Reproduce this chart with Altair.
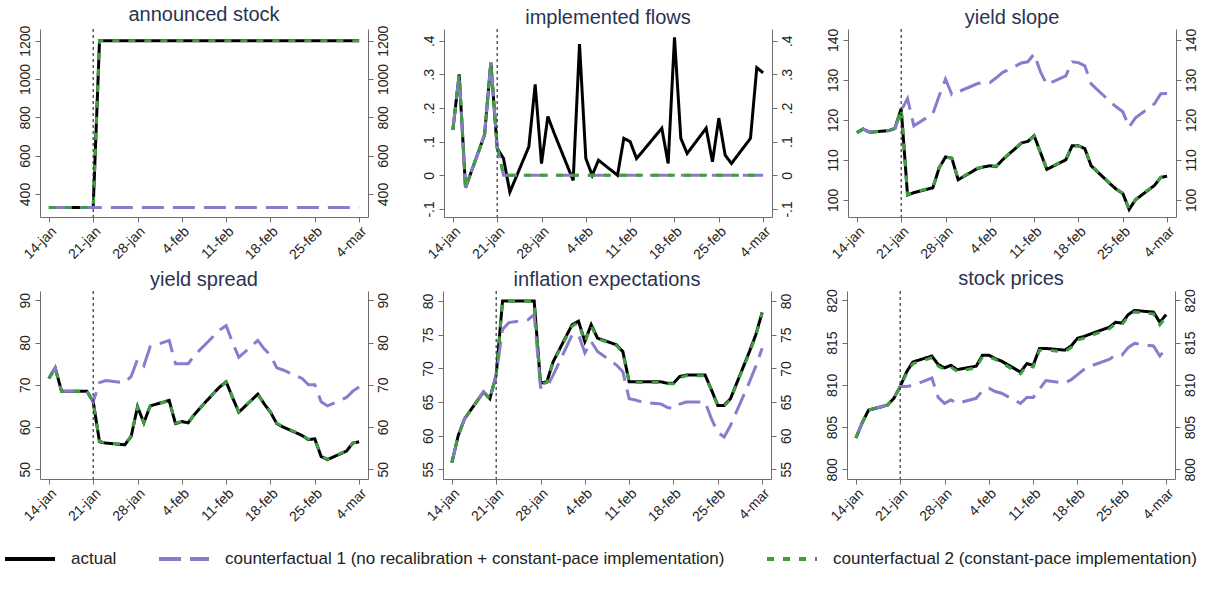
import altair as alt
import pandas as pd

# ---------------- data ----------------
dates = ["2015-01-14", "2015-01-15", "2015-01-16", "2015-01-19", "2015-01-20", "2015-01-21",
         "2015-01-22", "2015-01-23", "2015-01-26", "2015-01-27", "2015-01-28", "2015-01-29",
         "2015-01-30", "2015-02-02", "2015-02-03", "2015-02-04", "2015-02-05", "2015-02-06",
         "2015-02-09", "2015-02-10", "2015-02-11", "2015-02-12", "2015-02-13", "2015-02-16",
         "2015-02-17", "2015-02-18", "2015-02-19", "2015-02-20", "2015-02-23", "2015-02-24",
         "2015-02-25", "2015-02-26", "2015-02-27", "2015-03-02", "2015-03-03", "2015-03-04"]

tick_dates = ["2015-01-14", "2015-01-21", "2015-01-28", "2015-02-04",
              "2015-02-11", "2015-02-18", "2015-02-25", "2015-03-04"]
tick_labels = ["14-jan", "21-jan", "28-jan", "4-feb", "11-feb", "18-feb", "25-feb", "4-mar"]
announcement = ["2015-01-21"]

series_names = ["actual",
                "counterfactual 1 (no recalibration + constant-pace implementation)",
                "counterfactual 2 (constant-pace implementation)"]

stock_actual = [330, 330, 330, 330, 330, 330, 1200, 1200, 1200, 1200, 1200, 1200,
                1200, 1200, 1200, 1200, 1200, 1200, 1200, 1200, 1200, 1200, 1200, 1200,
                1200, 1200, 1200, 1200, 1200, 1200, 1200, 1200, 1200, 1200, 1200, 1200]
stock_cf1 = [330, 330, 330, 330, 330, 330, 330, 330, 330, 330, 330, 330,
             330, 330, 330, 330, 330, 330, 330, 330, 330, 330, 330, 330,
             330, 330, 330, 330, 330, 330, 330, 330, 330, 330, 330, 330]
stock_cf2 = [330, 330, 330, 330, 330, 330, 1200, 1200, 1200, 1200, 1200, 1200,
             1200, 1200, 1200, 1200, 1200, 1200, 1200, 1200, 1200, 1200, 1200, 1200,
             1200, 1200, 1200, 1200, 1200, 1200, 1200, 1200, 1200, 1200, 1200, 1200]

flows_actual = [0.135, 0.30, -0.037, 0.12, 0.335, 0.08, 0.05, -0.05, 0.085, 0.27, 0.035, 0.175,
                0.125, -0.015, 0.39, 0.05, 0.0, 0.045, 0.0, 0.11, 0.10, 0.05, 0.072, 0.14,
                0.035, 0.41, 0.11, 0.065, 0.14, 0.04, 0.17, 0.06, 0.035, 0.11, 0.32, 0.305]
flows_cf1 = [0.135, 0.30, -0.037, 0.12, 0.335, 0.085, 0.0, 0.0, 0.0, 0.0, 0.0, 0.0,
             0.0, 0.0, 0.0, 0.0, 0.0, 0.0, 0.0, 0.0, 0.0, 0.0, 0.0, 0.0,
             0.0, 0.0, 0.0, 0.0, 0.0, 0.0, 0.0, 0.0, 0.0, 0.0, 0.0, 0.0]
flows_cf2 = [0.135, 0.30, -0.037, 0.12, 0.335, 0.085, 0.0, 0.0, 0.0, 0.0, 0.0, 0.0,
             0.0, 0.0, 0.0, 0.0, 0.0, 0.0, 0.0, 0.0, 0.0, 0.0, 0.0, 0.0,
             0.0, 0.0, 0.0, 0.0, 0.0, 0.0, 0.0, 0.0, 0.0, 0.0, 0.0, 0.0]

slope_actual = [116.8, 117.7, 116.9, 117.3, 117.8, 122.8, 101.2, 101.8, 103.0, 108.0, 110.7, 110.4,
                105.0, 107.8, 108.2, 108.5, 108.3, 110.0, 114.2, 114.6, 116.0, 111.8, 107.6, 110.0,
                113.5, 113.5, 112.8, 108.5, 104.0, 102.6, 101.6, 97.6, 100.0, 103.6, 105.6, 105.9]
slope_cf1 = [116.8, 117.7, 116.9, 117.3, 117.8, 122.3, 125.3, 118.5, 121.5, 126.0, 130.2, 126.3,
             127.0, 129.0, 129.4, 129.3, 130.5, 131.8, 134.2, 134.5, 136.5, 132.0, 128.8, 131.0,
             134.5, 134.3, 133.5, 129.0, 124.5, 123.2, 122.0, 118.2, 120.5, 124.0, 126.5, 126.6]
slope_cf2 = [116.8, 117.7, 116.9, 117.3, 117.8, 122.8, 101.3, 101.9, 103.1, 108.1, 110.6, 110.4,
             105.1, 107.9, 108.2, 108.5, 108.4, 110.1, 114.3, 114.6, 115.9, 111.8, 107.7, 110.1,
             113.6, 113.4, 112.9, 108.6, 104.1, 102.6, 101.7, 97.7, 100.1, 103.7, 105.6, 105.9]

spread_actual = [71.5, 74.0, 68.5, 68.5, 68.5, 66.0, 56.5, 56.2, 55.8, 57.8, 64.8, 61.0,
                 65.0, 66.3, 60.8, 61.3, 61.0, 63.0, 68.0, 69.5, 70.7, 67.0, 63.5, 67.8,
                 65.5, 63.5, 60.8, 60.0, 58.0, 57.0, 57.2, 53.0, 52.3, 54.3, 56.2, 56.5]
spread_cf1 = [71.5, 74.0, 68.5, 68.5, 68.5, 66.0, 70.5, 71.0, 70.5, 72.0, 76.0, 74.5,
              79.0, 80.5, 75.0, 75.0, 75.0, 77.0, 81.5, 83.0, 84.0, 80.0, 76.5, 80.5,
              78.5, 77.0, 74.0, 73.5, 71.5, 70.0, 70.0, 66.0, 65.0, 67.0, 68.5, 69.5]
spread_cf2 = [71.5, 74.0, 68.5, 68.5, 68.5, 66.0, 56.6, 56.2, 55.9, 57.9, 64.7, 61.1,
              65.0, 66.2, 60.9, 61.3, 61.1, 63.1, 68.0, 69.4, 70.6, 67.1, 63.6, 67.7,
              65.6, 63.6, 60.9, 60.1, 58.1, 57.1, 57.2, 53.1, 52.4, 54.4, 56.2, 56.5]

infl_actual = [56.0, 60.0, 62.5, 66.5, 65.5, 69.0, 80.0, 80.0, 80.0, 80.0, 67.8, 68.0,
               71.0, 76.5, 77.0, 74.0, 76.5, 74.5, 73.5, 72.5, 68.0, 68.0, 68.0, 68.0,
               67.8, 67.8, 68.8, 69.0, 69.0, 66.8, 64.5, 64.5, 65.5, 72.5, 75.0, 78.3]
infl_cf1 = [56.0, 60.0, 62.5, 66.5, 65.5, 69.0, 75.8, 76.8, 77.2, 78.0, 67.2, 67.2,
            69.0, 75.0, 75.0, 72.3, 74.0, 72.5, 70.5, 69.5, 65.5, 65.3, 65.0, 64.7,
            64.2, 64.0, 64.7, 65.0, 65.0, 62.5, 60.5, 59.8, 61.5, 68.0, 70.3, 73.0]
infl_cf2 = [56.0, 60.0, 62.5, 66.5, 65.5, 69.0, 80.0, 80.0, 80.0, 79.9, 67.6, 67.9,
            70.9, 76.3, 76.8, 73.9, 76.3, 74.4, 73.4, 72.3, 67.9, 67.9, 67.9, 67.9,
            67.7, 67.7, 68.6, 68.9, 68.9, 66.7, 64.4, 64.4, 65.4, 72.3, 74.8, 78.2]

price_actual = [803.7, 805.5, 807.0, 807.6, 808.4, 809.8, 811.5, 812.7, 813.4, 812.4, 812.0, 812.3,
                811.8, 812.2, 813.5, 813.5, 813.1, 812.8, 811.5, 812.5, 812.3, 814.3, 814.3, 814.1,
                814.6, 815.5, 815.7, 816.0, 816.8, 817.4, 817.3, 818.3, 818.8, 818.6, 817.4, 818.3]
price_cf1 = [803.7, 805.5, 807.0, 807.6, 808.4, 809.8, 809.8, 809.9, 810.8, 808.5, 807.8, 808.2,
             807.8, 808.4, 809.3, 809.6, 809.2, 809.0, 807.8, 808.5, 808.5, 809.5, 810.5, 810.2,
             810.6, 811.2, 811.8, 812.2, 813.0, 813.5, 813.5, 814.4, 814.9, 814.6, 813.4, 814.3]
price_cf2 = [803.7, 805.5, 807.0, 807.6, 808.4, 809.8, 811.3, 812.5, 813.2, 812.2, 811.8, 812.1,
             811.6, 812.0, 813.3, 813.3, 813.0, 812.6, 811.3, 812.3, 812.1, 814.1, 814.1, 813.9,
             814.4, 815.3, 815.5, 815.8, 816.6, 817.2, 817.1, 818.1, 818.6, 818.4, 817.1, 818.0]

panel_titles = ["announced stock", "implemented flows", "yield slope",
                "yield spread", "inflation expectations", "stock prices"]
panel_series = [(stock_actual, stock_cf1, stock_cf2), (flows_actual, flows_cf1, flows_cf2),
                (slope_actual, slope_cf1, slope_cf2), (spread_actual, spread_cf1, spread_cf2),
                (infl_actual, infl_cf1, infl_cf2), (price_actual, price_cf1, price_cf2)]
panel_domains = [[280, 1261], [-0.124, 0.435], [95.7, 142.7],
                 [47.7, 92.2], [53.56, 81.5], [798.85, 821.1]]
panel_ticks = [[400, 600, 800, 1000, 1200], [-0.1, 0, 0.1, 0.2, 0.3, 0.4], [100, 110, 120, 130, 140],
               [50, 60, 70, 80, 90], [55, 60, 65, 70, 75, 80], [800, 805, 810, 815, 820]]
panel_formats = ["int", "dec", "int", "int", "int", "int"]

# ---------------- style ----------------
colors = ["#000000", "#8a7ccc", "#3f9e3f"]
dashes = [[1, 0], [22, 9], [7, 9]]
FONT = "Liberation Sans"
PW, PH = 328, 188
AXIS_COL = "#6e6e6e"

t0 = pd.Timestamp(tick_dates[0]).value // 10**6
week_ms = 7 * 86400000
label_array = "[" + ",".join("'%s'" % s for s in tick_labels) + "]"
x_label_expr = f"{label_array}[round((datum.value - {t0}) / {week_ms})]"


def dt(s, hours=0):
    ts = pd.Timestamp(s) + pd.Timedelta(hours=hours)
    return alt.DateTime(year=ts.year, month=ts.month, date=ts.day, hours=ts.hour,
                        minutes=ts.minute, utc=True)


x_scale = alt.Scale(type="utc", domain=[dt(dates[0], -33.6), dt(dates[-1], 33.6)], nice=False)
x_axis = alt.Axis(values=[dt(d) for d in tick_dates], labelExpr=x_label_expr, title=None,
                  labelAngle=315, labelAlign="right", labelBaseline="top", labelFontSize=14,
                  labelFont=FONT, labelColor="#222222", tickSize=5, tickColor=AXIS_COL,
                  domainColor=AXIS_COL, labelPadding=2, grid=False, labelOverlap=False)


def y_axis(orient, ticks, fmt):
    kw = dict(orient=orient, values=ticks, title=None, labelAngle=270, labelAlign="center",
              labelBaseline="bottom" if orient == "left" else "top", labelFontSize=14,
              labelFont=FONT, labelColor="#222222", tickSize=5, tickColor=AXIS_COL,
              domainColor=AXIS_COL, labelPadding=3, grid=False, labelOverlap=False)
    if fmt == "dec":
        kw["labelExpr"] = ("datum.value == 0 ? '0' : replace(replace(format(datum.value, '.1f'), "
                           "'0.', '.'), '\u2212', '-')")
    else:
        kw["format"] = "d"
    return alt.Axis(**kw)


legend = alt.Legend(title=None, orient="none", legendX=-37, legendY=503, direction="horizontal",
                    symbolType="stroke", symbolSize=2500, symbolStrokeWidth=4,
                    labelFontSize=17, labelFont=FONT, labelColor="#222222",
                    labelOffset=14, columnPadding=34, labelLimit=700)


def panel(i):
    a, c1, c2 = panel_series[i]
    rows = []
    for name, vals in zip(series_names, (a, c1, c2)):
        for d, v in zip(dates, vals):
            rows.append({"date": d, "series": name, "value": v})
    df = pd.DataFrame(rows)
    ysc = alt.Scale(domain=panel_domains[i], nice=False, zero=False)
    lines = alt.Chart(df).mark_line(strokeWidth=3, strokeCap="butt").encode(
        x=alt.X("date:T", scale=x_scale, axis=x_axis),
        y=alt.Y("value:Q", scale=ysc, axis=y_axis("left", panel_ticks[i], panel_formats[i])),
        color=alt.Color("series:N", scale=alt.Scale(domain=series_names, range=colors),
                        legend=legend),
        strokeDash=alt.StrokeDash("series:N", scale=alt.Scale(domain=series_names, range=dashes),
                                  legend=legend),
    )
    right = alt.Chart(df).mark_line(opacity=0).encode(
        x=alt.X("date:T", scale=x_scale, axis=x_axis),
        y=alt.Y("value:Q", scale=ysc, axis=y_axis("right", panel_ticks[i], panel_formats[i])),
    )
    rule = alt.Chart(pd.DataFrame({"date": announcement})).mark_rule(
        color="#333333", strokeWidth=1.2, strokeDash=[3, 3]).encode(
        x=alt.X("date:T", scale=x_scale, axis=x_axis))
    return alt.layer(lines, rule, right).resolve_axis(y="independent").properties(
        width=PW, height=PH,
        title=alt.Title(panel_titles[i], fontSize=20, font=FONT, color="#2b3252",
                        fontWeight="normal", offset=0, frame="group"))


row1 = alt.hconcat(panel(0), panel(1), panel(2), spacing=31)
row2 = alt.hconcat(panel(3), panel(4), panel(5), spacing=31)
chart = alt.vconcat(row1, row2, spacing=6).properties(
    padding={"left": 3, "top": 5, "right": 0, "bottom": 0},
    background="white",
).configure_view(stroke=None)

chart.save("out.html", embed_options={"renderer": "svg", "actions": False})
